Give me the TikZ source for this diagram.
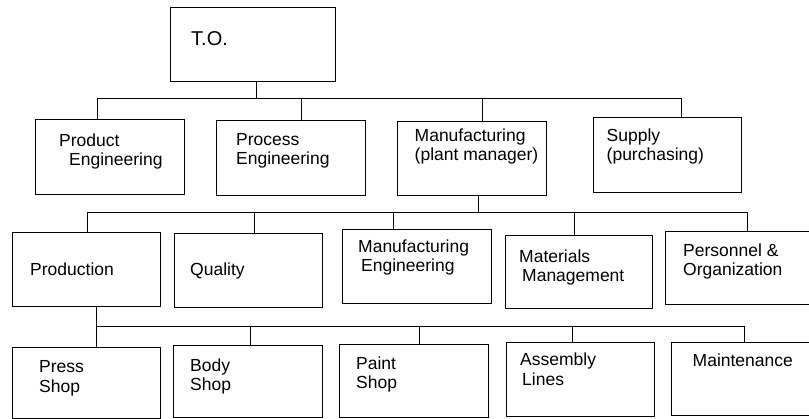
\documentclass[tikz,border=0pt]{standalone}
\usepackage{fontspec}
\setmainfont{Liberation Sans}
\usetikzlibrary{fit}
\begin{document}
\begin{tikzpicture}[x=1pt,y=-1pt,
  box/.style={draw, line width=0.9pt, inner sep=0pt, fit={#1}},
  conn/.style={draw, line width=0.9pt},
  txt/.style={anchor=base west, inner sep=0pt, align=left, font=\fontsize{17.5}{19.5}\selectfont},
  bigtxt/.style={anchor=base west, inner sep=0pt, font=\fontsize{20}{22}\selectfont}]
\useasboundingbox (0,0) rectangle (809,419);
\clip (0,0) rectangle (809,419);
\fill[white] (0,0) rectangle (809,419);

% boxes
\node[box={(170,7) (335,81)}] (to) {};
\node[box={(35,119) (184,194)}] (pe) {};
\node[box={(216,120) (365,195)}] (pre) {};
\node[box={(397,121) (546,195)}] (mfg) {};
\node[box={(593,117) (741,192)}] (sup) {};
\node[box={(12,232) (160,306)}] (prod) {};
\node[box={(174,233) (322,307)}] (qual) {};
\node[box={(342,229) (491,303)}] (me) {};
\node[box={(505,235) (652,308)}] (mm) {};
\node[box={(665,231) (815,304)}] (po) {};
\node[box={(12,347) (160,418.5)}] (press) {};
\node[box={(173,345) (322,417)}] (body) {};
\node[box={(339,344) (488,417)}] (paint) {};
\node[box={(506,342) (654,416)}] (asm) {};
\node[box={(671,342) (815,415)}] (mnt) {};

% texts (multi-line nodes: anchor is the baseline of the last line)
\node[bigtxt] (tto) at (191,46) {T.O.};
\node[txt] (tpe) at (59,166) {Product\\\hspace*{10pt}Engineering};
\node[txt] (tpre) at (236,165) {Process\\Engineering};
\node[txt] (tmfg) at (414.5,161) {Manufacturing\\(plant manager)};
\node[txt] (tsup) at (606.5,161) {Supply\\(purchasing)};
\node[txt] (tprod) at (30,275.5) {Production};
\node[txt] (tqual) at (190,275.5) {Quality};
\node[txt] (tme) at (358,272) {Manufacturing\\\hspace*{3pt}Engineering};
\node[txt] (tmm) at (519,282) {Materials\\\hspace*{3pt}Management};
\node[txt] (tpo) at (683,276) {Personnel \&\\Organization};
\node[txt] (tpress) at (39,392.5) {Press\\Shop};
\node[txt] (tbody) at (190,391) {Body\\Shop};
\node[txt] (tpaint) at (356,389) {Paint\\Shop};
\node[txt] (tasm) at (520,385.5) {Assembly\\\hspace*{2pt}Lines};
\node[txt] (tmnt) at (692.5,367) {Maintenance};

% level 1 connectors
\coordinate (t1) at (256,98);
\coordinate (j1a) at (97,98);
\coordinate (j1b) at (301,98);
\coordinate (j1c) at (482,98);
\coordinate (j1d) at (681,98);
\draw[conn] (t1 |- to.south) -- (t1);
\draw[conn] (j1a |- pe.north) -- (j1a) -- (j1d) -- (j1d |- sup.north);
\draw[conn] (j1b) -- (j1b |- pre.north);
\draw[conn] (j1c) -- (j1c |- mfg.north);

% level 2 connectors
\coordinate (t2) at (478,212);
\coordinate (j2a) at (87,212);
\coordinate (j2b) at (254,212);
\coordinate (j2c) at (393,212);
\coordinate (j2d) at (574,212);
\coordinate (j2e) at (747,212);
\draw[conn] (t2 |- mfg.south) -- (t2);
\draw[conn] (j2a |- prod.north) -- (j2a) -- (j2e) -- (j2e |- po.north);
\draw[conn] (j2b) -- (j2b |- qual.north);
\draw[conn] (j2c) -- (j2c |- me.north);
\draw[conn] (j2d) -- (j2d |- mm.north);

% level 3 connectors
\coordinate (j3a) at (96,326);
\coordinate (j3b) at (250,326);
\coordinate (j3c) at (419,326);
\coordinate (j3d) at (572,326);
\coordinate (j3e) at (744,326);
\draw[conn] (j3a |- prod.south) -- (j3a |- press.north);
\draw[conn] (j3a) -- (j3e) -- (j3e |- mnt.north);
\draw[conn] (j3b) -- (j3b |- body.north);
\draw[conn] (j3c) -- (j3c |- paint.north);
\draw[conn] (j3d) -- (j3d |- asm.north);
\end{tikzpicture}
\end{document}
